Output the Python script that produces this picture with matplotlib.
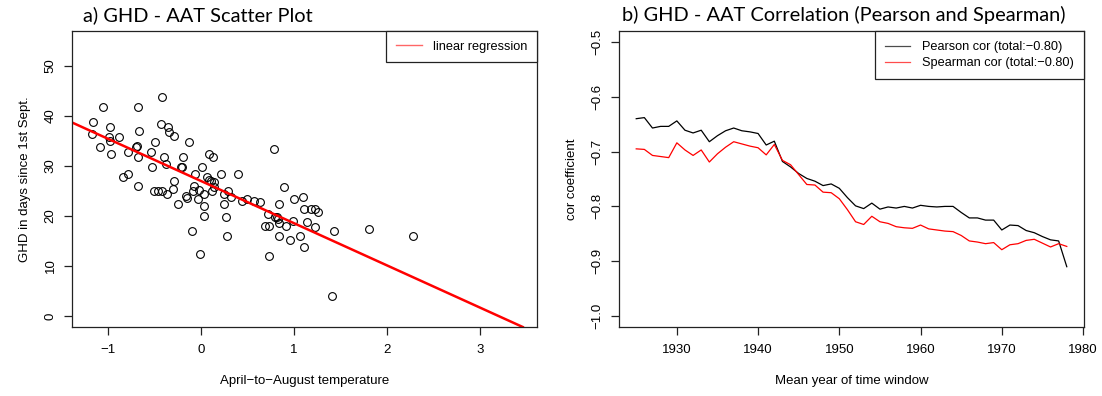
import matplotlib
matplotlib.use("Agg")
import matplotlib.pyplot as plt

# datos del scatter (AAT vs GHD)
aat = [-0.42, -1.05, -0.68, -1.16, -0.43, -0.36, -0.98, -0.34, -0.67, -0.29,
       -1.17, -0.99, -0.88, -0.98, -0.49, -0.13, -1.09, -0.70, -0.69, -0.78,
       -0.97, -0.54, -0.68, -0.40, -0.19, 0.09, 0.13, 0.79, -0.38, -0.53,
       -0.21, -0.20, 0.01, -0.84, -0.79, -0.06, 0.22, 0.40, 0.06, 0.09,
       0.11, 0.14, -0.29, -0.68, -0.08, 0.14, -0.50, -0.46, -0.42, -0.30,
       -0.37, -0.09, -0.02, 0.03, 0.12, 0.25, 0.29, 0.32, -0.16, -0.15,
       -0.03, -0.25, 0.03, 0.25, 0.44, 0.49, 0.57, 0.63, -0.10, 0.03,
       0.27, 0.28, 0.72, 0.80, 0.82, 0.84, 0.89, 0.69, 0.73, 0.84,
       0.83, 0.91, 0.99, 1.00, 1.10, 1.11, 1.18, 1.23, 1.26, 1.14,
       1.23, 0.84, 1.06, 0.96, 1.43, 1.81, 2.28, 1.41, 0.73, -0.01, 1.11]
ghd = [43.9, 41.9, 41.9, 38.8, 38.5, 37.9, 37.9, 36.9, 37.1, 36.0,
       36.5, 35.9, 35.9, 35.1, 34.9, 34.9, 33.9, 33.9, 34.0, 32.9,
       32.5, 32.9, 31.9, 31.9, 31.9, 32.5, 31.9, 33.5, 30.5, 29.9,
       29.9, 29.9, 29.9, 27.9, 28.5, 28.5, 28.5, 28.5, 27.9, 27.3,
       27.0, 26.8, 27.0, 26.0, 26.0, 25.9, 25.0, 25.0, 25.0, 25.5,
       24.5, 25.0, 25.2, 24.5, 25.0, 24.5, 25.0, 23.9, 24.1, 23.7,
       23.5, 22.5, 22.0, 22.5, 23.1, 23.5, 23.1, 22.9, 17.1, 20.1,
       19.9, 16.1, 20.5, 19.9, 19.9, 22.5, 25.9, 18.0, 18.0, 18.7,
       19.5, 18.1, 19.0, 23.5, 23.9, 21.5, 21.5, 21.5, 20.9, 18.9,
       17.9, 16.0, 16.0, 15.2, 17.0, 17.5, 16.0, 4.1, 12.0, 12.4, 13.9]

# regresion lineal
intercepto = 27.0
pendiente = -8.44

# correlaciones por ventana
anios = list(range(1925, 1979))
pearson = [-0.640, -0.638, -0.657, -0.654, -0.654, -0.644, -0.661, -0.666, -0.661, -0.682,
           -0.671, -0.662, -0.657, -0.662, -0.664, -0.667, -0.688, -0.681, -0.718, -0.728,
           -0.740, -0.749, -0.754, -0.762, -0.759, -0.767, -0.784, -0.799, -0.804, -0.794,
           -0.805, -0.801, -0.803, -0.800, -0.803, -0.798, -0.800, -0.801, -0.800, -0.800,
           -0.811, -0.821, -0.821, -0.825, -0.825, -0.843, -0.834, -0.835, -0.844, -0.848,
           -0.855, -0.861, -0.863, -0.910]
spearman = [-0.695, -0.696, -0.707, -0.709, -0.711, -0.684, -0.697, -0.707, -0.697, -0.719,
            -0.704, -0.692, -0.682, -0.686, -0.690, -0.693, -0.706, -0.687, -0.716, -0.724,
            -0.742, -0.760, -0.761, -0.774, -0.775, -0.786, -0.806, -0.828, -0.833, -0.818,
            -0.828, -0.831, -0.837, -0.839, -0.840, -0.834, -0.841, -0.843, -0.845, -0.846,
            -0.853, -0.863, -0.865, -0.868, -0.866, -0.879, -0.870, -0.868, -0.862, -0.860,
            -0.867, -0.874, -0.868, -0.873]

plt.rcParams['font.family'] = ['Liberation Sans', 'DejaVu Sans']
plt.rcParams['axes.unicode_minus'] = True

W, H = 1102, 396
fig = plt.figure(figsize=(W / 100, H / 100), dpi=100)

def caja(x0, y0, x1, y1):
    return [x0 / W, 1 - y1 / H, (x1 - x0) / W, (y1 - y0) / H]

def estilo(ax):
    for s in ax.spines.values():
        s.set_color('#222222')
        s.set_linewidth(0.9)
    ax.tick_params(direction='out', length=6, width=0.9, labelsize=9.5, color='#222222')
    ax.tick_params(axis='y', labelrotation=90, pad=5)
    ax.tick_params(axis='x', pad=6)
    for lab in ax.get_yticklabels():
        lab.set_va('center')

# a) scatter
ax1 = fig.add_axes(caja(72, 31, 537, 327))
ax1.plot(aat, ghd, 'o', mfc='none', mec='black', ms=5.6, mew=0.8, ls='none')
ax1.axline((0, intercepto), slope=pendiente, color='red', lw=1.8, label='linear regression')
ax1.set_xlim(-1.387, 3.613)
ax1.set_ylim(-2.2, 57)
ax1.set_xticks([-1, 0, 1, 2, 3])
ax1.set_yticks([0, 10, 20, 30, 40, 50])
estilo(ax1)
ax1.set_xlabel('April\u2212to\u2212August temperature', fontsize=9.5, labelpad=14)
ax1.set_ylabel('GHD in days since 1st Sept.', fontsize=9.5, labelpad=10)
leg1 = ax1.legend(loc='upper right', borderaxespad=0, fancybox=False, edgecolor='#222222',
                  framealpha=1, fontsize=9.2, handlelength=2.0, handletextpad=0.9,
                  borderpad=0.75)
leg1.get_frame().set_linewidth(0.9)
for l in leg1.get_lines():
    l.set_linewidth(1.0)
    l.set_alpha(0.6)

# b) correlaciones
ax2 = fig.add_axes(caja(619, 31, 1084, 327))
ax2.plot(anios, pearson, color='black', lw=0.9, label='Pearson cor (total:\u22120.80)')
ax2.plot(anios, spearman, color='red', lw=0.9, label='Spearman cor (total:\u22120.80)')
ax2.set_xlim(1922.88, 1980.12)
ax2.set_ylim(-1.02, -0.48)
ax2.set_xticks([1930, 1940, 1950, 1960, 1970, 1980])
ax2.set_yticks([-1.0, -0.9, -0.8, -0.7, -0.6, -0.5])
ax2.set_yticklabels(['\u22121.0', '\u22120.9', '\u22120.8', '\u22120.7', '\u22120.6', '\u22120.5'])
estilo(ax2)
ax2.set_xlabel('Mean year of time window', fontsize=9.5, labelpad=14)
ax2.set_ylabel('cor coefficient', fontsize=9.5, labelpad=10)
leg2 = ax2.legend(loc='upper right', borderaxespad=0, fancybox=False, edgecolor='#222222',
                  framealpha=1, fontsize=9.2, handlelength=2.0, handletextpad=0.9,
                  borderpad=0.8, labelspacing=0.3)
leg2.get_frame().set_linewidth(0.9)
for l in leg2.get_lines():
    l.set_alpha(0.7)

# titulos
fig.text(83 / W, 1 - 15 / H, 'a) GHD - AAT Scatter Plot', fontsize=14.4,
         family=['Lato', 'DejaVu Sans'], va='center', ha='left')
fig.text(622 / W, 1 - 15 / H, 'b) GHD - AAT Correlation (Pearson and Spearman)', fontsize=14.4,
         family=['Lato', 'DejaVu Sans'], va='center', ha='left')

fig.savefig('out.png', dpi=100)
